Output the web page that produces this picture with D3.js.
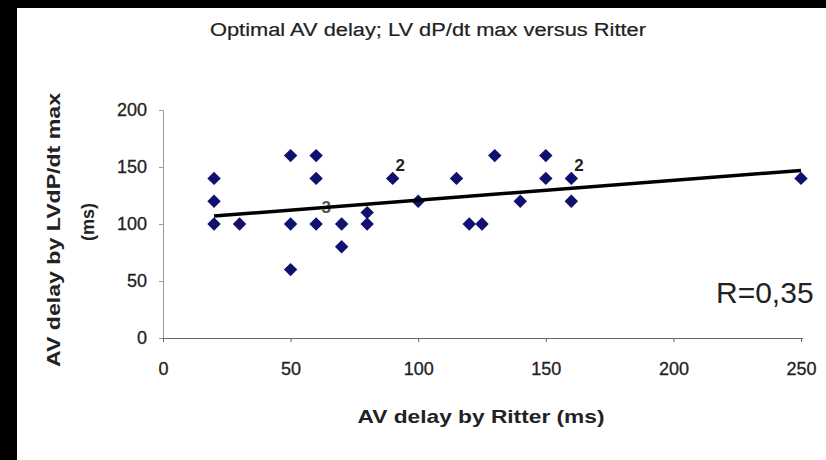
<!DOCTYPE html>
<html>
<head>
<meta charset="utf-8">
<script src="https://cdn.jsdelivr.net/npm/d3@7"></script>
<style>
  body { margin: 0; background: #000; }
  svg { display: block; font-family: "Liberation Sans", Arial, sans-serif; }
</style>
</head>
<body>
<div id="chart"></div>
<script>
// scatter points (x = AV delay by Ritter, y = AV delay by LV dP/dt max)
const ritterValues = [20, 20, 20, 30, 50, 50, 50, 60, 60, 60, 70, 70, 80, 80, 90, 100,
                      115, 120, 125, 130, 140, 150, 150, 160, 160, 250];
const dpdtValues   = [140, 120, 100, 100, 160, 100, 60, 160, 140, 100, 100, 80, 110, 100, 140, 120,
                      140, 100, 100, 160, 120, 160, 140, 140, 120, 140];

// trend line end points
const trendX = [20, 250];
const trendY = [107, 147];

// multiplicity labels
const countLabels = ["3", "2", "2"];
const countX = [64, 93, 163];
const countY = [115, 152, 152];

const xTicks = [0, 50, 100, 150, 200, 250];
const yTicks = [0, 50, 100, 150, 200];

const W = 826, H = 460;
const margin = {top: 110, right: 25, bottom: 122, left: 163};

const svg = d3.select("#chart").append("svg")
    .attr("width", W)
    .attr("height", H);

// white panel inside the black frame
svg.append("rect")
    .attr("x", 17).attr("y", 8)
    .attr("width", W - 17).attr("height", H - 8)
    .attr("fill", "#fff");

// scales
const x = d3.scaleLinear().domain([0, 250]).range([margin.left, 801]);
const y = d3.scaleLinear().domain([0, 200]).range([H - margin.bottom, margin.top]);

// y axis
const yAxis = svg.append("g")
    .attr("transform", "translate(" + margin.left + ",0)")
    .call(d3.axisLeft(y).tickValues(yTicks).tickSize(4).tickPadding(12));
yAxis.select(".domain").attr("stroke", "#999");
yAxis.selectAll(".tick line").attr("stroke", "#999");
yAxis.selectAll("text")
    .attr("font-size", 18).attr("fill", "#222")
    .attr("stroke", "#222").attr("stroke-width", 0.3)
    .attr("font-family", "Liberation Sans, Arial, sans-serif");

// x axis
const xAxis = svg.append("g")
    .attr("transform", "translate(0," + (H - margin.bottom) + ")")
    .call(d3.axisBottom(x).tickValues(xTicks).tickSize(4).tickPadding(20));
xAxis.select(".domain").attr("stroke", "#666").attr("d", "M" + margin.left + ",0.5H803");
xAxis.selectAll(".tick line").attr("stroke", "#666");
xAxis.selectAll("text")
    .attr("font-size", 18).attr("fill", "#222")
    .attr("stroke", "#222").attr("stroke-width", 0.3)
    .attr("font-family", "Liberation Sans, Arial, sans-serif");

// points
svg.append("g").selectAll("path")
    .data(ritterValues.map((v, i) => [v, dpdtValues[i]]))
    .enter().append("path")
    .attr("transform", d => "translate(" + x(d[0]) + "," + y(d[1]) + ")")
    .attr("d", d3.symbol().type(d3.symbolDiamond2).size(115))
    .attr("fill", "#10106e");

// multiplicity labels (the "3" sits behind the trend line)
svg.append("g").selectAll("text")
    .data(countLabels)
    .enter().append("text")
    .attr("x", (d, i) => x(countX[i]))
    .attr("y", (d, i) => y(countY[i]))
    .attr("dy", "0.35em")
    .attr("text-anchor", "middle")
    .attr("font-size", 17)
    .attr("font-weight", "bold")
    .attr("fill", (d, i) => i === 0 ? "#555" : "#222")
    .text(d => d);

// trend line
svg.append("path")
    .datum(trendX.map((v, i) => [v, trendY[i]]))
    .attr("d", d3.line().x(d => x(d[0])).y(d => y(d[1])))
    .attr("fill", "none")
    .attr("stroke", "#000")
    .attr("stroke-width", 3.5);

// title
svg.append("text")
    .attr("x", 210).attr("y", 36)
    .attr("textLength", 436).attr("lengthAdjust", "spacingAndGlyphs")
    .attr("font-size", 18).attr("fill", "#222")
    .attr("stroke", "#222").attr("stroke-width", 0.2)
    .text("Optimal AV delay; LV dP/dt max versus Ritter");

// x axis title
svg.append("text")
    .attr("x", 481).attr("y", 423)
    .attr("text-anchor", "middle")
    .attr("textLength", 247).attr("lengthAdjust", "spacingAndGlyphs")
    .attr("font-size", 19).attr("font-weight", "bold").attr("fill", "#222")
    .text("AV delay by Ritter (ms)");

// y axis title, two lines
svg.append("text")
    .attr("transform", "translate(60,230) rotate(-90)")
    .attr("text-anchor", "middle")
    .attr("textLength", 274).attr("lengthAdjust", "spacingAndGlyphs")
    .attr("font-size", 19).attr("font-weight", "bold").attr("fill", "#222")
    .text("AV delay by LVdP/dt max");
svg.append("text")
    .attr("transform", "translate(94,222) rotate(-90)")
    .attr("text-anchor", "middle")
    .attr("font-size", 18).attr("font-weight", "bold").attr("fill", "#222")
    .text("(ms)");

// correlation note
svg.append("text")
    .attr("x", 716).attr("y", 303)
    .attr("font-size", 30).attr("fill", "#222")
    .text("R=0,35");
</script>
</body>
</html>
